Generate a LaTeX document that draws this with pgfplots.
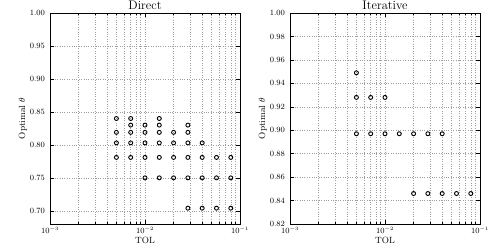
\documentclass[border=0pt]{standalone}
\usepackage{pgfplots}
\pgfplotsset{compat=1.18}
\pgfplotsset{
  myax/.style={
    width=190pt, height=211pt, scale only axis,
    xmin=1e-3, xmax=1e-1,
    tick align=inside,
    major tick length=4pt, minor tick length=2pt,
    xmajorgrids=true, xminorgrids=true, ymajorgrids=true,
    major grid style={dotted, gray!75, line width=0.5pt},
    minor grid style={dotted, gray!75, line width=0.5pt},
    axis line style={line width=0.8pt},
    tick style={line width=0.5pt, black},
    tick label style={font=\fontsize{7.8}{9}\selectfont},
    label style={font=\fontsize{9}{10}\selectfont},
    title style={font=\fontsize{12.5}{13}\selectfont, yshift=-6pt},
    yticklabel style={xshift=-1.5pt, /pgf/number format/fixed, /pgf/number format/fixed zerofill, /pgf/number format/precision=2},
    xlabel={TOL},
    ylabel={Optimal $\theta$},
    xlabel style={yshift=3pt},
    ylabel style={yshift=-4pt},
  },
  mypts/.style={only marks, mark=o, mark size=2pt, black, mark options={line width=0.9pt}},
}
\begin{document}
\begin{tikzpicture}
\path[use as bounding box] (-50pt,-26pt) rectangle (450pt,224pt);
\begin{semilogxaxis}[myax, at={(0pt,0pt)}, anchor=south west,
  ymin=0.68, ymax=1.00, ytick={0.70,0.75,0.80,0.85,0.90,0.95,1.00},
  title={Direct}]
\addplot[mypts] coordinates {
(0.005,0.840) (0.005,0.819) (0.005,0.803) (0.005,0.781)
(0.00707,0.840) (0.00707,0.830) (0.00707,0.819) (0.00707,0.803) (0.00707,0.781)
(0.01,0.830) (0.01,0.819) (0.01,0.803) (0.01,0.781) (0.01,0.750)
(0.01414,0.840) (0.01414,0.830) (0.01414,0.819) (0.01414,0.803) (0.01414,0.781) (0.01414,0.750)
(0.02,0.819) (0.02,0.803) (0.02,0.781) (0.02,0.750)
(0.02828,0.830) (0.02828,0.819) (0.02828,0.803) (0.02828,0.781) (0.02828,0.750) (0.02828,0.704)
(0.04,0.803) (0.04,0.781) (0.04,0.750) (0.04,0.704)
(0.05657,0.781) (0.05657,0.750) (0.05657,0.704)
(0.08,0.781) (0.08,0.750) (0.08,0.704)
};
\end{semilogxaxis}
\begin{semilogxaxis}[myax, at={(240pt,0pt)}, anchor=south west,
  ymin=0.82, ymax=1.00, ytick={0.82,0.84,0.86,0.88,0.90,0.92,0.94,0.96,0.98,1.00},
  title={Iterative}]
\addplot[mypts] coordinates {
(0.005,0.949) (0.005,0.928) (0.005,0.897)
(0.00707,0.928) (0.00707,0.897)
(0.01,0.928) (0.01,0.897)
(0.01414,0.897)
(0.02,0.897) (0.02,0.846)
(0.02828,0.897) (0.02828,0.846)
(0.04,0.897) (0.04,0.846)
(0.05657,0.846)
(0.08,0.846)
};
\end{semilogxaxis}
\end{tikzpicture}
\end{document}
